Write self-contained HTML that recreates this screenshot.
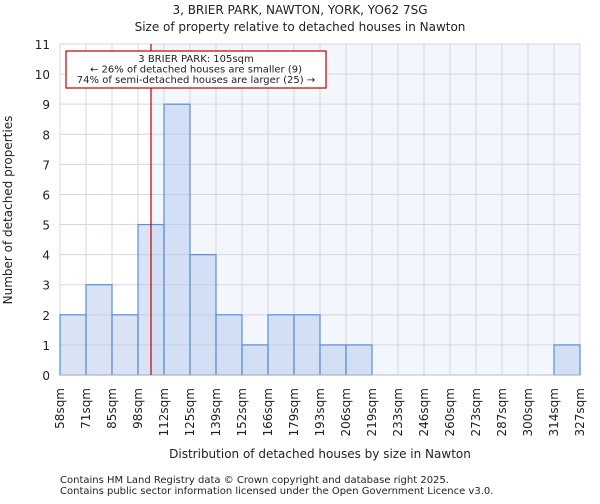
<!DOCTYPE html>
<html><head><meta charset="utf-8"><style>
body{margin:0;background:#fff;font-family:"DejaVu Sans","Liberation Sans",sans-serif;}
svg text{font-family:"DejaVu Sans","Liberation Sans",sans-serif;fill:#222;}
</style></head><body>
<svg id="chart" width="600" height="500">
<text x="300" y="14" font-size="12" text-anchor="middle">3, BRIER PARK, NAWTON, YORK, YO62 7SG</text>
<text x="300" y="31" font-size="12" text-anchor="middle">Size of property relative to detached houses in Nawton</text>
<g id="plot"></g>
<text x="320" y="458" font-size="12" text-anchor="middle">Distribution of detached houses by size in Nawton</text>
<text transform="translate(12,210) rotate(-90)" font-size="12" text-anchor="middle">Number of detached properties</text>
<text x="60" y="483" font-size="10" fill="#444">Contains HM Land Registry data © Crown copyright and database right 2025.</text>
<text x="60" y="494" font-size="10" fill="#444">Contains public sector information licensed under the Open Government Licence v3.0.</text>
</svg>
<script>
const binLabels=["58sqm","71sqm","85sqm","98sqm","112sqm","125sqm","139sqm","152sqm","166sqm","179sqm","193sqm","206sqm","219sqm","233sqm","246sqm","260sqm","273sqm","287sqm","300sqm","314sqm","327sqm"];
const binEdges=[58,71,85,98,112,125,139,152,166,179,193,206,219,233,246,260,273,287,300,314,327];
const counts=[2,3,2,5,9,4,2,1,2,2,1,1,0,0,0,0,0,0,0,1];
const yTicks=[0,1,2,3,4,5,6,7,8,9,10,11];
const markerSize=105;
const X0=60,X1=580,Y0=375,Y1=44,YMAX=11;
const nb=counts.length;
const xi=i=>X0+(X1-X0)*i/nb;
const xv=v=>{for(let i=0;i<nb;i++){if(v<=binEdges[i+1]){return xi(i)+(v-binEdges[i])/(binEdges[i+1]-binEdges[i])*(X1-X0)/nb;}}return X1;};
const y=v=>Y0-(Y0-Y1)*v/YMAX;
const NS="http://www.w3.org/2000/svg";
const g=document.getElementById('plot');
function mk(t,a){const e=document.createElementNS(NS,t);for(const k in a)e.setAttribute(k,a[k]);g.appendChild(e);return e;}
const mx=xv(markerSize);
let e=mk('rect',{x:mx,y:Y1,width:X1-mx,height:Y0-Y1,fill:'#f3f6fd'});


yTicks.forEach(t=>{
 let l=mk('line',{x1:X0,x2:X1,y1:y(t),y2:y(t),stroke:'#d4d7de','stroke-width':1});
 
 
 let tx=mk('text',{x:X0-10,y:y(t)+5,'font-size':12,'text-anchor':'end'});tx.textContent=t;
 
 
});
binLabels.forEach((lab,i)=>{
 let l=mk('line',{x1:xi(i),x2:xi(i),y1:Y1,y2:Y0,stroke:'#d4d7de','stroke-width':1});
 
 
 let tx=mk('text',{transform:`translate(${xi(i)+4},388) rotate(-90)`,'font-size':12,'text-anchor':'end'});tx.textContent=lab;
 
 
});
counts.forEach((c,i)=>{
 if(c<=0)return;
 let r=mk('rect',{x:xi(i),y:y(c),width:xi(i+1)-xi(i),height:Y0-y(c),fill:'rgba(180,200,235,0.5)',stroke:'#5b8fd8','stroke-width':1.2});
 
 
});
e=mk('line',{x1:X0,x2:X1,y1:Y0,y2:Y0,stroke:'#bbb','stroke-width':1});


e=mk('line',{x1:mx,x2:mx,y1:Y1,y2:Y0,stroke:'#c00000','stroke-width':1.2});


e=mk('rect',{x:66,y:51,width:260,height:37,fill:'#fff',stroke:'#c00000','stroke-width':1.2});


["3 BRIER PARK: 105sqm","← 26% of detached houses are smaller (9)","74% of semi-detached houses are larger (25) →"].forEach((s,k)=>{
 let t=mk('text',{x:196,y:62+k*10.5,'font-size':10,'text-anchor':'middle'});t.textContent=s;
 
 
});
</script>
</body></html>
